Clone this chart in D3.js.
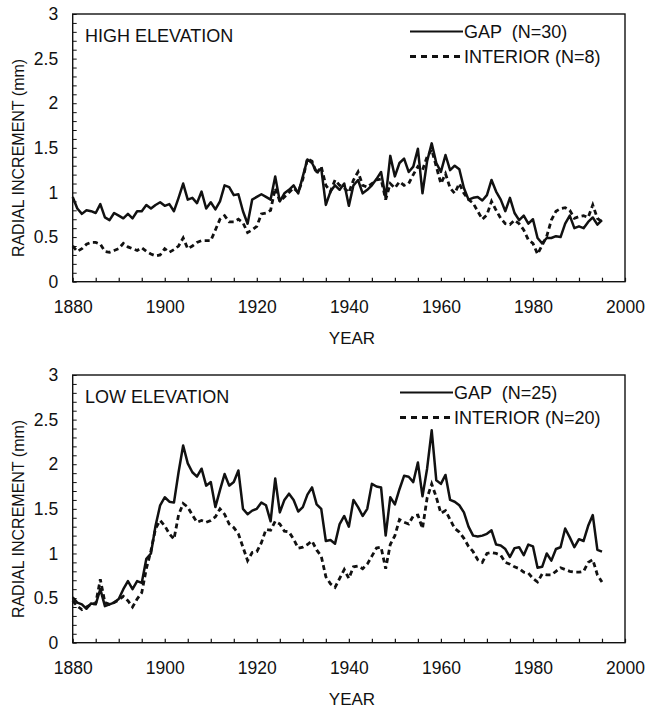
<!DOCTYPE html>
<html>
<head>
<meta charset="utf-8">
<script src="https://cdn.jsdelivr.net/npm/d3@7"></script>
<style>
  body { margin: 0; background: #fff; }
  svg text { font-family: "Liberation Sans", Arial, sans-serif; fill: #111; }
</style>
</head>
<body>
<div id="chart"></div>
<script>
// Données : accroissement radial annuel (mm), 1880-1995
const firstYear = 1880;

const highGap = [
  0.95,0.82,0.76,0.80,0.79,0.77,0.87,0.72,0.69,0.77,
  0.74,0.71,0.76,0.71,0.79,0.79,0.86,0.82,0.86,0.89,
  0.85,0.87,0.79,0.94,1.10,0.92,0.94,0.88,1.01,0.82,
  0.89,0.81,0.90,1.08,1.06,0.97,0.98,0.79,0.65,0.92,
  0.95,0.98,0.95,0.92,1.18,0.90,0.99,1.03,1.08,0.99,
  1.18,1.37,1.33,1.23,1.27,0.86,1.01,1.08,1.03,1.10,
  0.85,1.08,1.14,0.99,1.03,1.08,1.15,1.23,0.94,1.41,
  1.18,1.33,1.38,1.23,1.29,1.49,0.99,1.35,1.55,1.33,
  1.23,1.42,1.25,1.30,1.26,1.05,0.92,0.94,0.95,0.91,
  0.97,1.14,1.01,0.92,0.79,0.94,0.77,0.69,0.74,0.65,
  0.70,0.49,0.43,0.49,0.49,0.51,0.50,0.65,0.74,0.60,
  0.62,0.60,0.67,0.72,0.64,0.69
];

const highInterior = [
  0.40,0.34,0.37,0.42,0.44,0.44,0.42,0.34,0.33,0.35,
  0.37,0.43,0.39,0.37,0.35,0.38,0.34,0.31,0.29,0.30,
  0.37,0.33,0.36,0.40,0.49,0.37,0.40,0.44,0.46,0.46,
  0.46,0.58,0.70,0.74,0.67,0.67,0.70,0.66,0.55,0.58,
  0.62,0.76,0.77,0.80,1.05,0.90,0.95,1.00,1.05,1.00,
  1.15,1.38,1.35,1.21,1.29,1.08,1.01,1.14,1.08,1.05,
  1.00,1.14,1.23,1.08,1.06,1.10,1.14,1.15,0.92,1.10,
  1.05,1.12,1.08,1.10,1.20,1.29,1.25,1.40,1.48,1.29,
  1.10,1.21,1.05,0.99,1.10,0.99,0.92,0.88,0.79,0.70,
  0.75,0.90,0.80,0.71,0.65,0.64,0.69,0.65,0.58,0.47,
  0.43,0.31,0.41,0.51,0.69,0.79,0.82,0.83,0.80,0.71,
  0.73,0.74,0.72,0.86,0.71,0.67
];

const lowGap = [
  0.51,0.45,0.43,0.38,0.44,0.43,0.60,0.41,0.43,0.45,
  0.49,0.60,0.69,0.60,0.69,0.67,0.94,1.00,1.31,1.54,
  1.63,1.58,1.57,1.91,2.21,2.01,1.91,1.86,1.95,1.76,
  1.80,1.52,1.71,1.89,1.76,1.80,1.93,1.50,1.44,1.48,
  1.50,1.57,1.54,1.36,1.84,1.46,1.60,1.67,1.60,1.47,
  1.52,1.66,1.74,1.55,1.50,1.14,1.15,1.11,1.33,1.42,
  1.30,1.60,1.52,1.42,1.50,1.78,1.75,1.74,1.20,1.63,
  1.55,1.72,1.87,1.86,1.80,2.02,1.64,1.95,2.38,1.82,
  1.78,1.88,1.60,1.58,1.54,1.46,1.30,1.20,1.19,1.20,
  1.22,1.26,1.10,1.09,1.05,0.96,1.06,1.07,0.98,1.10,
  1.08,0.84,0.85,1.00,0.92,1.05,1.07,1.28,1.18,1.07,
  1.16,1.14,1.31,1.43,1.04,1.02
];

const lowInterior = [
  0.47,0.41,0.37,0.40,0.43,0.44,0.71,0.45,0.43,0.45,
  0.48,0.52,0.47,0.40,0.49,0.56,0.83,1.03,1.28,1.37,
  1.31,1.22,1.16,1.43,1.56,1.52,1.43,1.35,1.37,1.35,
  1.37,1.41,1.50,1.44,1.33,1.29,1.22,1.07,0.92,1.01,
  1.02,1.12,1.27,1.26,1.36,1.33,1.25,1.24,1.16,1.06,
  1.07,1.10,1.14,1.04,0.97,0.74,0.66,0.62,0.72,0.82,
  0.72,0.85,0.86,0.83,0.88,0.97,1.06,1.07,0.83,1.10,
  1.20,1.38,1.35,1.33,1.42,1.43,1.28,1.62,1.78,1.63,
  1.45,1.48,1.38,1.28,1.24,1.17,1.08,1.02,0.93,0.90,
  1.00,1.01,1.00,0.98,0.90,0.88,0.85,0.83,0.79,0.78,
  0.72,0.68,0.77,0.76,0.76,0.80,0.84,0.82,0.80,0.79,
  0.79,0.80,0.90,0.93,0.76,0.68
];

const panelLabels = ['HIGH ELEVATION', 'LOW ELEVATION'];
const gapLabels = ['GAP  (N=30)', 'GAP  (N=25)'];
const interiorLabels = ['INTERIOR (N=8)', 'INTERIOR (N=20)'];
const xTickLabels = [1880, 1900, 1920, 1940, 1960, 1980, 2000];
const yTickLabels = [0, 0.5, 1, 1.5, 2, 2.5, 3];

// Mise en page
const width = 647, height = 711;
const ink = '#111';
const panelTops = [14, 375];
const panelHeight = 267.7;
const legendX = [410, 400];

const svg = d3.select('#chart')
    .append('svg')
    .attr('width', width)
    .attr('height', height);

const x = d3.scaleLinear()
    .domain([1880, 2000])
    .range([72.7, 625]);

function drawPanel(i, gap, interior) {
    const top = panelTops[i];
    const bottom = top + panelHeight;

    const y = d3.scaleLinear()
        .domain([0, 3])
        .range([bottom, top]);

    const g = svg.append('g');

    // Petites graduations vers l'intérieur
    g.append('g')
        .attr('transform', `translate(0,${bottom})`)
        .call(d3.axisBottom(x)
            .tickValues(d3.range(1880, 2001, 5))
            .tickSizeInner(-4)
            .tickSizeOuter(0)
            .tickFormat(''))
        .call(a => a.select('.domain').remove())
        .selectAll('line').attr('stroke', ink).attr('stroke-width', 1.2);

    g.append('g')
        .attr('transform', `translate(${x.range()[0]},0)`)
        .call(d3.axisLeft(y)
            .tickValues(d3.range(0, 31).map(v => v / 10))
            .tickSizeInner(-4)
            .tickSizeOuter(0)
            .tickFormat(''))
        .call(a => a.select('.domain').remove())
        .selectAll('line').attr('stroke', ink).attr('stroke-width', 1);

    // Étiquettes des axes
    const xLab = g.append('g')
        .attr('transform', `translate(0,${bottom})`)
        .call(d3.axisBottom(x)
            .tickValues(xTickLabels)
            .tickSize(0)
            .tickPadding(19)
            .tickFormat(d3.format('d')));
    xLab.select('.domain').remove();
    xLab.selectAll('text')
        .attr('font-size', 17.5)
        .attr('font-family', '"Liberation Sans", Arial, sans-serif')
        .attr('fill', ink);

    const yLab = g.append('g')
        .attr('transform', `translate(${x.range()[0]},0)`)
        .call(d3.axisLeft(y)
            .tickValues(yTickLabels)
            .tickSize(0)
            .tickPadding(14.5)
            .tickFormat(d => String(d)));
    yLab.select('.domain').remove();
    yLab.selectAll('text')
        .attr('font-size', 17.5)
        .attr('font-family', '"Liberation Sans", Arial, sans-serif')
        .attr('fill', ink);

    // Courbes
    const line = d3.line()
        .x((d, k) => x(firstYear + k))
        .y(d => y(d));

    g.append('path')
        .datum(interior)
        .attr('d', line)
        .attr('fill', 'none')
        .attr('stroke', ink)
        .attr('stroke-width', 2.8)
        .attr('stroke-dasharray', '5,3.5');

    g.append('path')
        .datum(gap)
        .attr('d', line)
        .attr('fill', 'none')
        .attr('stroke', ink)
        .attr('stroke-width', 2.5)
        .attr('stroke-linejoin', 'round');

    // Cadre
    g.append('rect')
        .attr('x', x.range()[0])
        .attr('y', top)
        .attr('width', x.range()[1] - x.range()[0])
        .attr('height', panelHeight)
        .attr('fill', 'none')
        .attr('stroke', ink)
        .attr('stroke-width', 1.4);

    // Titre du panneau
    g.append('text')
        .attr('x', 85)
        .attr('y', top + 27.5)
        .attr('font-size', 18)
        .text(panelLabels[i]);

    // Légende
    const lx = legendX[i];
    const rows = [
        { label: gapLabels[i], dash: null, w: 2 },
        { label: interiorLabels[i], dash: '6,5', w: 2.8 }
    ];
    rows.forEach((r, k) => {
        const ly = top + 17.5 + k * 25;
        g.append('line')
            .attr('x1', lx).attr('x2', lx + 53)
            .attr('y1', ly).attr('y2', ly)
            .attr('stroke', ink)
            .attr('stroke-width', r.w)
            .attr('stroke-dasharray', r.dash);
        g.append('text')
            .attr('x', lx + 54)
            .attr('y', ly)
            .attr('dy', '0.36em')
            .attr('font-size', 18)
            .style('white-space', 'pre')
            .text(r.label);
    });

    // Titres des axes
    g.append('text')
        .attr('transform', `translate(18,${top + 144}) rotate(-90)`)
        .attr('text-anchor', 'middle')
        .attr('dy', '0.36em')
        .attr('font-size', 16)
        .text('RADIAL INCREMENT (mm)');

    g.append('text')
        .attr('x', 352)
        .attr('y', bottom + 56)
        .attr('dy', '0.36em')
        .attr('text-anchor', 'middle')
        .attr('font-size', 17)
        .text('YEAR');
}

drawPanel(0, highGap, highInterior);
drawPanel(1, lowGap, lowInterior);
</script>
</body>
</html>
